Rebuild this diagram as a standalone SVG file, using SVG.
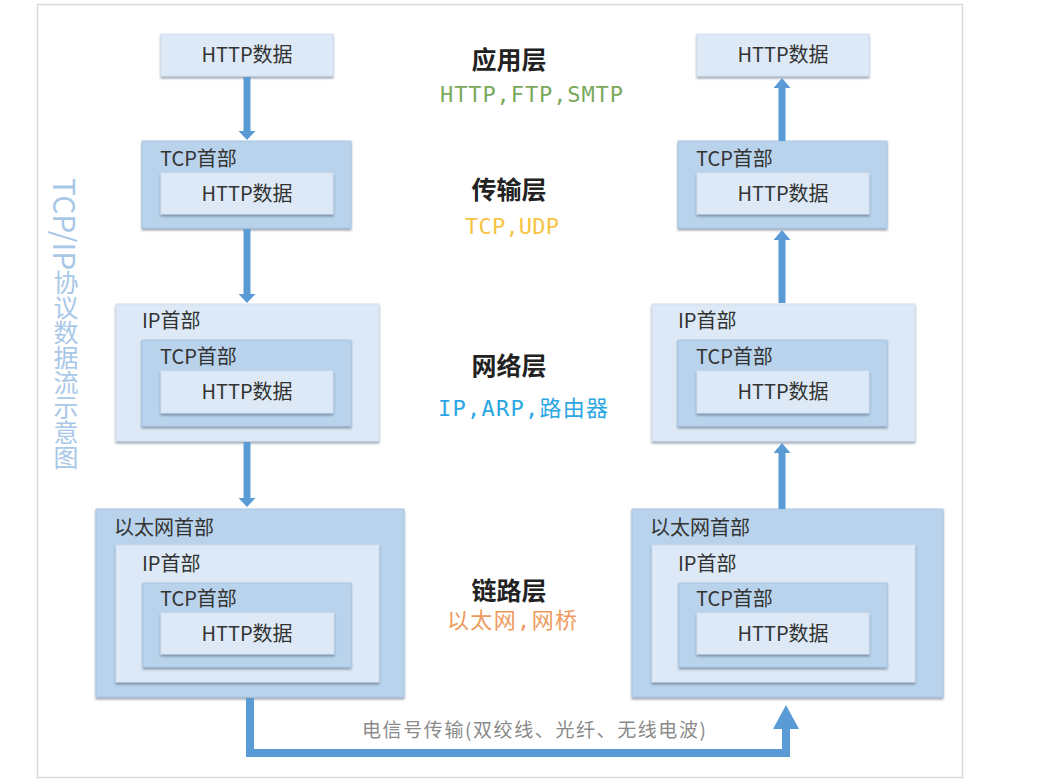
<svg xmlns="http://www.w3.org/2000/svg" width="1046" height="784" viewBox="0 0 1046 784">
<style>
.dark{fill:#b9d3ec;stroke:#aac6e3;stroke-width:1}
.light{fill:#dde9f6;stroke:#cfdff0;stroke-width:1}
.box{filter:url(#sh)}
.lbl{font-family:"Noto Sans CJK SC","Noto Sans",sans-serif;font-size:20px;fill:#333}
.ctr{text-anchor:middle}
.layer{font-family:"Noto Sans CJK SC",sans-serif;font-size:25px;font-weight:bold;fill:#222;text-anchor:middle}
.proto{font-family:"DejaVu Sans Mono","Noto Sans CJK SC",monospace;font-size:22px}
.arrow{fill:#5b9bd5}
</style>
<defs>
<filter id="sh" x="-10%" y="-10%" width="120%" height="130%">
<feDropShadow dx="0" dy="2" stdDeviation="1" flood-color="#4a5a70" flood-opacity="0.55"/>
</filter>
</defs>
<rect x="0" y="0" width="1046" height="784" fill="#ffffff"/>
<rect x="37.5" y="4.5" width="925" height="773" fill="#ffffff" stroke="#dadada" stroke-width="1.5"/>

<text x="66" y="178" style="writing-mode:vertical-rl" font-family="Noto Sans CJK SC, Noto Sans, sans-serif" font-size="25" fill="#a9c7e7"><tspan font-size="30">TCP/IP</tspan>协议数据流示意图</text>

<!-- Left column -->
<g id="L-app">
<rect class="light box" x="161" y="34" width="172" height="42"/>
<text class="lbl ctr" x="247" y="62">HTTP数据</text>
</g>
<g id="L-transport">
<rect class="dark box" x="142" y="141" width="209" height="87"/>
<text class="lbl" x="160" y="166">TCP首部</text>
<rect class="light box" x="161" y="173" width="172" height="41"/>
<text class="lbl ctr" x="247" y="201">HTTP数据</text>
</g>
<g id="L-network">
<rect class="light box" x="116" y="304" width="263" height="137"/>
<text class="lbl" x="142" y="328">IP首部</text>
<rect class="dark box" x="142" y="340" width="209" height="86"/>
<text class="lbl" x="160" y="364">TCP首部</text>
<rect class="light box" x="161" y="371" width="172" height="42"/>
<text class="lbl ctr" x="247" y="399">HTTP数据</text>
</g>
<g id="L-link">
<rect class="dark box" x="96" y="509" width="308" height="188"/>
<text class="lbl" x="114" y="535">以太网首部</text>
<rect class="light box" x="116" y="545" width="263" height="137"/>
<text class="lbl" x="142" y="571">IP首部</text>
<rect class="dark box" x="143" y="583" width="208" height="84"/>
<text class="lbl" x="160" y="606">TCP首部</text>
<rect class="light box" x="161" y="613" width="173" height="41"/>
<text class="lbl ctr" x="247" y="641">HTTP数据</text>
</g>

<!-- Right column -->
<g id="R-app">
<rect class="light box" x="697" y="34" width="172" height="42"/>
<text class="lbl ctr" x="783" y="62">HTTP数据</text>
</g>
<g id="R-transport">
<rect class="dark box" x="678" y="141" width="209" height="87"/>
<text class="lbl" x="696" y="166">TCP首部</text>
<rect class="light box" x="697" y="173" width="172" height="41"/>
<text class="lbl ctr" x="783" y="201">HTTP数据</text>
</g>
<g id="R-network">
<rect class="light box" x="652" y="304" width="263" height="137"/>
<text class="lbl" x="678" y="328">IP首部</text>
<rect class="dark box" x="678" y="340" width="209" height="86"/>
<text class="lbl" x="696" y="364">TCP首部</text>
<rect class="light box" x="697" y="371" width="172" height="42"/>
<text class="lbl ctr" x="783" y="399">HTTP数据</text>
</g>
<g id="R-link">
<rect class="dark box" x="632" y="509" width="311" height="188"/>
<text class="lbl" x="650" y="535">以太网首部</text>
<rect class="light box" x="652" y="545" width="263" height="137"/>
<text class="lbl" x="678" y="571">IP首部</text>
<rect class="dark box" x="679" y="583" width="208" height="84"/>
<text class="lbl" x="696" y="606">TCP首部</text>
<rect class="light box" x="697" y="613" width="172" height="41"/>
<text class="lbl ctr" x="783" y="641">HTTP数据</text>
</g>

<!-- Layer labels -->
<g id="layers">
<text class="layer" x="509" y="69">应用层</text>
<text class="proto" x="440" y="102" fill="#7aa95a" textLength="183" lengthAdjust="spacing">HTTP,FTP,SMTP</text>
<text class="layer" x="509" y="199">传输层</text>
<text class="proto" x="465" y="234" fill="#f7c443" textLength="94" lengthAdjust="spacing">TCP,UDP</text>
<text class="layer" x="509" y="375">网络层</text>
<text class="proto" x="438" y="416" fill="#2aa7e3" textLength="170" lengthAdjust="spacing">IP,ARP,路由器</text>
<text class="layer" x="509" y="600">链路层</text>
<text class="proto" x="447" y="628" fill="#ef9a5c" textLength="130" lengthAdjust="spacing">以太网,网桥</text>
</g>

<!-- Connectors -->
<g id="connectors">
<rect class="arrow" x="243.5" y="77" width="7" height="56"/>
<polygon class="arrow" points="238.5,131 255.5,131 247,140"/>
<rect class="arrow" x="243.5" y="229" width="7" height="67"/>
<polygon class="arrow" points="238.5,294 255.5,294 247,303"/>
<rect class="arrow" x="243.5" y="442" width="7" height="58"/>
<polygon class="arrow" points="238.5,498 255.5,498 247,507"/>

<rect class="arrow" x="778.5" y="86" width="7" height="55"/>
<polygon class="arrow" points="773.5,88 790.5,88 782,78"/>
<rect class="arrow" x="778.5" y="238" width="7" height="65"/>
<polygon class="arrow" points="773.5,240 790.5,240 782,230"/>
<rect class="arrow" x="778.5" y="451" width="7" height="58"/>
<polygon class="arrow" points="773.5,453 790.5,453 782,443"/>

<path d="M250 698 V753 H786 V726" fill="none" stroke="#5b9bd5" stroke-width="8"/>
<polygon class="arrow" points="773,729 799,729 786,705"/>
<text x="362" y="737" font-family="Noto Sans CJK SC, sans-serif" font-size="19" fill="#8a8a8a" textLength="344" lengthAdjust="spacing">电信号传输(双绞线、光纤、无线电波)</text>
</g>
</svg>
